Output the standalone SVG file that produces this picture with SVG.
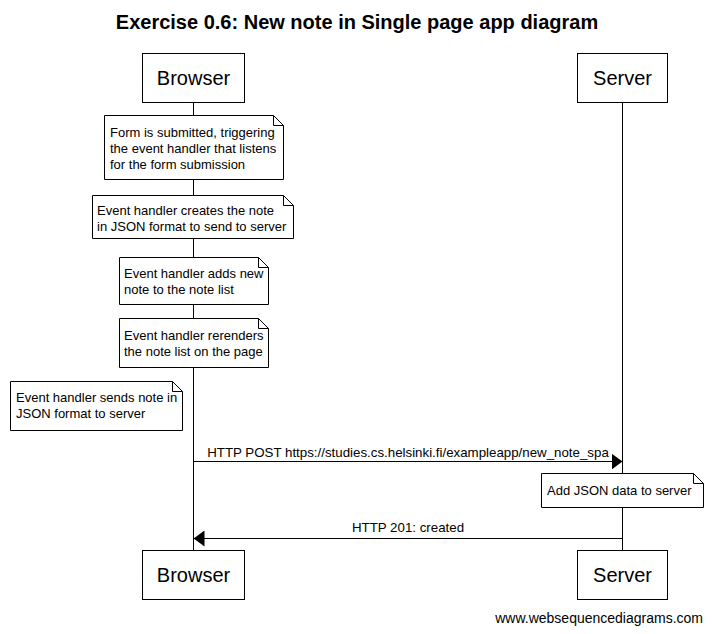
<svg xmlns="http://www.w3.org/2000/svg" width="712" height="634" viewBox="0 0 712 634">
  <style>
    text { font-family: "Liberation Sans", Arial, sans-serif; fill: #000; }
    .title { font-size: 20px; font-weight: bold; text-anchor: middle; }
    .actor rect { fill: #fff; stroke: #000; stroke-width: 1; }
    .actor text { font-size: 20px; text-anchor: middle; }
    .note path { fill: #fff; stroke: #000; stroke-width: 1; }
    .note text { font-size: 13px; }
    .msg text { font-size: 13.3px; text-anchor: middle; }
    .footer { font-size: 14px; }
    .life { stroke: #000; stroke-width: 1; }
    .msg line { stroke: #000; stroke-width: 1; }
  </style>
  <defs>
    <marker id="head" viewBox="0 0 11 16" refX="11" refY="8" markerWidth="11" markerHeight="16" markerUnits="userSpaceOnUse" orient="auto">
      <path d="M0,0 L11,8 L0,16 Z" fill="#000"/>
    </marker>
  </defs>

  <rect width="712" height="634" fill="#fff"/>
  <text class="title" x="357" y="29">Exercise 0.6: New note in Single page app diagram</text>

  <!-- lifelines -->
  <g id="lifelines">
    <line class="life" x1="193.5" y1="102" x2="193.5" y2="550"/>
    <line class="life" x1="622.5" y1="102" x2="622.5" y2="550"/>
  </g>

  <!-- participants -->
  <g id="browser-top" class="actor">
    <rect x="142.5" y="53.5" width="102" height="49"/>
    <text x="193.5" y="85">Browser</text>
  </g>
  <g id="server-top" class="actor">
    <rect x="577.5" y="53.5" width="90" height="49"/>
    <text x="622.5" y="85">Server</text>
  </g>
  <g id="browser-bottom" class="actor">
    <rect x="142.5" y="550.5" width="102" height="49"/>
    <text x="193.5" y="582">Browser</text>
  </g>
  <g id="server-bottom" class="actor">
    <rect x="577.5" y="550.5" width="90" height="49"/>
    <text x="622.5" y="582">Server</text>
  </g>

  <!-- notes -->
  <g id="note-submit" class="note">
    <path d="M104.5,115.5 H273.5 L283.5,125.5 V179.5 H104.5 Z M273.5,115.5 V125.5 H283.5"/>
    <text x="110" y="137">Form is submitted, triggering</text>
    <text x="110" y="153">the event handler that listens</text>
    <text x="110" y="169">for the form submission</text>
  </g>
  <g id="note-create" class="note">
    <path d="M92.5,195.5 H283.5 L293.5,205.5 V238.5 H92.5 Z M283.5,195.5 V205.5 H293.5"/>
    <text x="97" y="215">Event handler creates the note</text>
    <text x="97" y="231">in JSON format to send to server</text>
  </g>
  <g id="note-add" class="note">
    <path d="M119.5,257.5 H258.5 L268.5,267.5 V304.5 H119.5 Z M258.5,257.5 V267.5 H268.5"/>
    <text x="124" y="278">Event handler adds new</text>
    <text x="124" y="294">note to the note list</text>
  </g>
  <g id="note-render" class="note">
    <path d="M119.5,318.5 H258.5 L268.5,328.5 V367.5 H119.5 Z M258.5,318.5 V328.5 H268.5"/>
    <text x="124" y="340">Event handler rerenders</text>
    <text x="124" y="356">the note list on the page</text>
  </g>
  <g id="note-send" class="note">
    <path d="M10.5,381.5 H172.5 L182.5,391.5 V430.5 H10.5 Z M172.5,381.5 V391.5 H182.5"/>
    <text x="16" y="402">Event handler sends note in</text>
    <text x="16" y="418">JSON format to server</text>
  </g>
  <g id="note-server" class="note">
    <path d="M541.5,473.5 H693.5 L703.5,483.5 V507.5 H541.5 Z M693.5,473.5 V483.5 H703.5"/>
    <text x="547" y="495">Add JSON data to server</text>
  </g>

  <!-- messages -->
  <g id="messages" class="msg">
    <line x1="193.5" y1="461.5" x2="622.5" y2="461.5" marker-end="url(#head)"/>
    <text x="408" y="457">HTTP POST https://studies.cs.helsinki.fi/exampleapp/new_note_spa</text>
    <line x1="622.5" y1="538.5" x2="193.5" y2="538.5" marker-end="url(#head)"/>
    <text x="408" y="532">HTTP 201: created</text>
  </g>

  <text class="footer" x="703" y="623" text-anchor="end">www.websequencediagrams.com</text>
</svg>
